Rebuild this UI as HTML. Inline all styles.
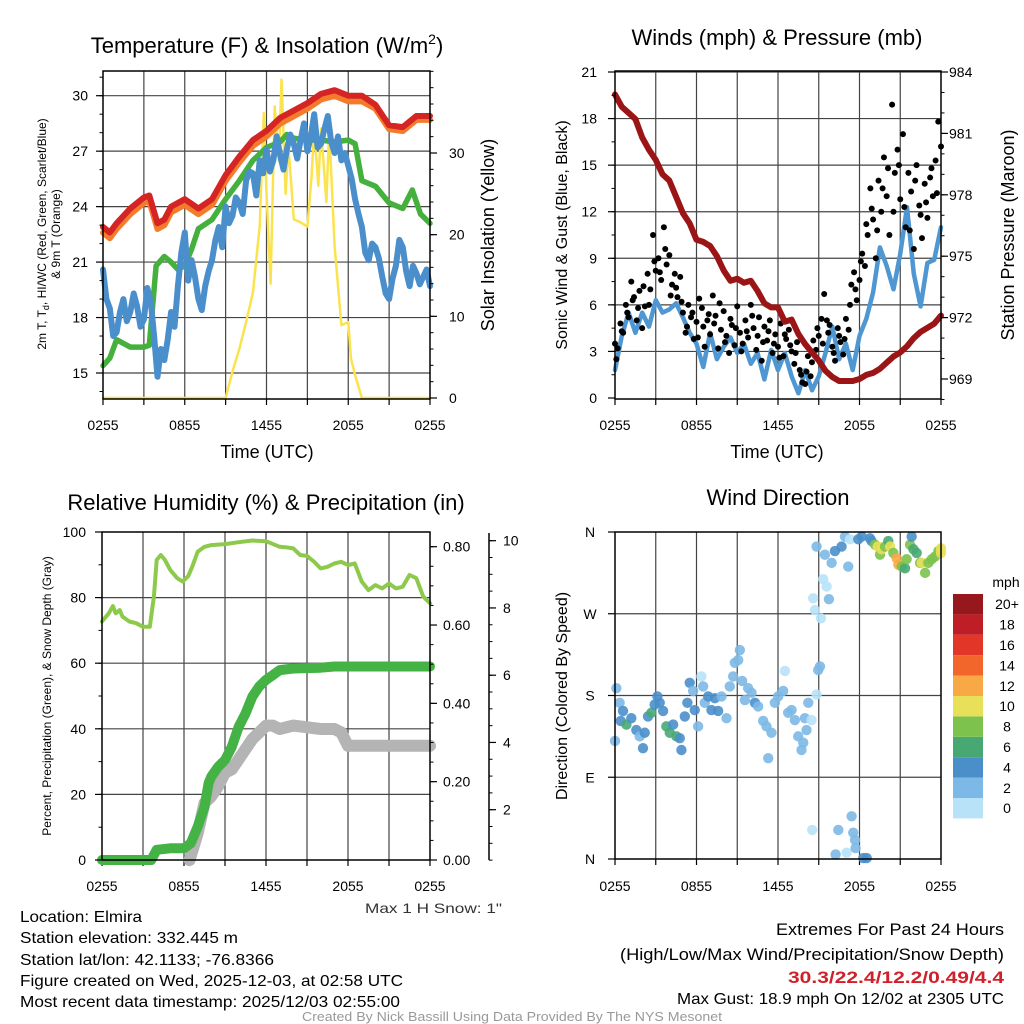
<!DOCTYPE html>
<html><head><meta charset="utf-8"><style>
html,body{margin:0;padding:0;background:#fff;}
svg{display:block;font-family:"Liberation Sans",sans-serif;}
</style></head><body>
<svg id="chart" width="1024" height="1024" viewBox="0 0 1024 1024">
<g id="texts">
<text x="267" y="53" font-size="22" text-anchor="middle">Temperature (F) &amp; Insolation (W/m<tspan font-size="14" dy="-9">2</tspan><tspan dy="9">)</tspan></text>
<text x="777" y="45" font-size="22" text-anchor="middle">Winds (mph) &amp; Pressure (mb)</text>
<text x="266" y="510" font-size="22" text-anchor="middle">Relative Humidity (%) &amp; Precipitation (in)</text>
<text x="778" y="505" font-size="22" text-anchor="middle">Wind Direction</text>
<text x="267" y="458" font-size="18" text-anchor="middle">Time (UTC)</text>
<text x="777" y="458" font-size="18" text-anchor="middle">Time (UTC)</text>
<text transform="translate(46,234) rotate(-90)" font-size="12" text-anchor="middle">2m T, T<tspan font-size="9" dy="3">d</tspan><tspan dy="-3">, HI/WC (Red, Green, Scarlet/Blue)</tspan></text>
<text transform="translate(60,234) rotate(-90)" font-size="12" text-anchor="middle">&amp; 9m T (Orange)</text>
<text transform="translate(494,235) rotate(-90)" font-size="18" text-anchor="middle">Solar Insolation (Yellow)</text>
<text transform="translate(567,235) rotate(-90)" font-size="16" text-anchor="middle">Sonic Wind &amp; Gust (Blue, Black)</text>
<text transform="translate(1014,235) rotate(-90)" font-size="18" text-anchor="middle">Station Pressure (Maroon)</text>
<text transform="translate(51,696) rotate(-90)" font-size="12" text-anchor="middle">Percent, Precipitation (Green), &amp; Snow Depth (Gray)</text>
<text transform="translate(567,696) rotate(-90)" font-size="16" text-anchor="middle">Direction (Colored By Speed)</text>
<text x="502" y="913" font-size="14" fill="#333" text-anchor="end" textLength="137" lengthAdjust="spacingAndGlyphs">Max 1 H Snow: 1"</text>
<text x="20" y="922" font-size="16" textLength="122" lengthAdjust="spacingAndGlyphs">Location: Elmira</text>
<text x="20" y="943" font-size="16" textLength="218" lengthAdjust="spacingAndGlyphs">Station elevation: 332.445 m</text>
<text x="20" y="965" font-size="16" textLength="254" lengthAdjust="spacingAndGlyphs">Station lat/lon: 42.1133; -76.8366</text>
<text x="20" y="986" font-size="16" textLength="383" lengthAdjust="spacingAndGlyphs">Figure created on Wed, 2025-12-03, at 02:58 UTC</text>
<text x="20" y="1007" font-size="16" textLength="380" lengthAdjust="spacingAndGlyphs">Most recent data timestamp: 2025/12/03 02:55:00</text>
<text x="1004" y="935" font-size="17" text-anchor="end" textLength="228" lengthAdjust="spacingAndGlyphs">Extremes For Past 24 Hours</text>
<text x="1004" y="960" font-size="17" text-anchor="end" textLength="384" lengthAdjust="spacingAndGlyphs">(High/Low/Max Wind/Precipitation/Snow Depth)</text>
<text x="1004" y="983" font-size="17" font-weight="bold" fill="#d0202a" text-anchor="end" textLength="216" lengthAdjust="spacingAndGlyphs">30.3/22.4/12.2/0.49/4.4</text>
<text x="1004" y="1004" font-size="16" text-anchor="end" textLength="327" lengthAdjust="spacingAndGlyphs">Max Gust: 18.9 mph On 12/02 at 2305 UTC</text>
<text x="512" y="1021" font-size="13" fill="#999" text-anchor="middle" textLength="420" lengthAdjust="spacingAndGlyphs">Created By Nick Bassill Using Data Provided By The NYS Mesonet</text>
<text x="1006" y="587" font-size="14" text-anchor="middle">mph</text>
</g>
</svg>
<script>
// ---------- DATA ----------
const xTickLabels = ["0255","0855","1455","2055","0255"];
const halfHours = [0,0.5,1,1.5,2,2.5,3,3.5,4,4.5,5,5.5,6,6.5,7,7.5,8,8.5,9,9.5,10,10.5,11,11.5,12,12.5,13,13.5,14,14.5,15,15.5,16,16.5,17,17.5,18,18.5,19,19.5,20,20.5,21,21.5,22,22.5,23,23.5,24];
const quarterHours = Array.from({length:97},(_,i)=>i*0.25);
// Panel 1
const tempHours = [0,0.5,1,2,3,3.4,4,4.5,5,6,7,8,9,10,11,12,13,14,15,16,17,18,19,20,21,22,23,24];
const temp2m = [22.9,22.6,23.1,23.9,24.5,24.6,23.1,23.3,24.0,24.4,23.9,24.4,25.7,26.7,27.6,28.1,28.8,29.2,29.6,30.1,30.3,30.0,30.0,29.5,28.4,28.3,28.9,28.9];
const temp9m = [22.7,22.4,22.9,23.7,24.3,24.4,22.9,23.1,23.8,24.2,23.7,24.2,25.5,26.5,27.4,27.9,28.6,29.0,29.4,29.9,30.1,29.8,29.8,29.4,28.3,28.2,28.8,28.8];
const dewHours = [0,0.5,1,2,3,3.4,3.9,4.5,5,5.5,6,6.5,7,8,9,10,11,12,13,13.5,14,15,16,17,18,18.5,19,20,21,22,22.7,23.3,24];
const dewpoint = [15.4,15.8,16.8,16.4,16.4,16.5,20.8,21.3,21.0,20.6,20.8,21.7,22.8,23.3,24.4,25.4,26.5,27.2,27.5,27.9,27.7,27.6,27.6,27.5,27.6,27.4,25.4,25.1,24.2,23.9,24.9,23.6,23.1];
const hiwc = [20.6,19.0,18.5,17.0,17.2,18.3,19.0,17.8,18.3,19.3,18.6,17.5,17.9,19.6,18.9,17.0,14.8,16.3,15.7,16.8,18.3,17.5,19.7,21.5,22.6,20.0,21.1,20.2,19.0,18.4,19.7,20.5,21.1,22.2,22.9,21.8,24.0,23.1,23.5,24.5,24.2,23.6,25.4,25.9,25.8,24.6,26.5,25.8,27.1,25.9,26.5,27.8,26.8,26.0,27.1,27.9,27.4,26.6,27.6,28.5,27.0,27.8,29.0,27.2,27.4,28.2,28.9,27.5,26.9,27.8,26.5,26.9,26.2,25.5,24.4,23.6,22.9,21.5,21.1,22.0,21.8,21.2,20.2,19.3,19.0,20.1,20.8,22.2,21.8,20.5,19.7,20.8,20.4,19.8,20.2,20.6,19.7];
const solarHours = [0,9,9.5,10,10.5,11,11.5,11.8,12,12.3,12.6,12.9,13.1,13.4,13.6,14,14.5,15,15.3,15.5,15.8,16,16.4,16.6,17,17.5,18,18.2,18.5,19,24];
const solar = [0,0,3.2,6.0,9.3,12.9,21,34.9,25,14,35.7,29,39,25,31,21.9,21.5,21,27,33,26,33,24,33,18.6,8.9,9.3,4.8,2.8,0,0];
const tempTicks = [15,18,21,24,27,30];
const solarTicks = [0,10,20,30];
// Panel 2
const pressure = [982.9,982.3,982.0,981.7,980.8,980.2,979.7,979.0,978.7,977.9,977.1,976.6,975.8,975.7,975.5,975.0,974.3,973.8,973.9,973.7,973.8,973.3,972.7,972.5,972.5,971.8,971.9,971.2,970.7,970.3,969.9,969.4,969.1,968.9,968.9,968.9,969.0,969.2,969.3,969.5,969.8,970.1,970.3,970.6,971.0,971.3,971.5,971.7,972.1];
const wind = [1.8,4.0,5.5,4.2,5.5,4.6,6.3,5.5,5.7,6.1,5.2,4.2,3.5,2.0,4.2,2.5,3.3,3.9,2.9,3.5,2.2,2.9,1.2,3.1,1.8,2.9,1.4,0.3,1.8,0.5,1.4,2.9,4.6,2.5,3.5,1.8,4.0,5.1,6.8,9.7,8.5,7.0,9.3,12.3,8.0,5.9,8.7,8.9,11.0];
const gustHoursA = Array.from({length:121},(_,i)=>i*0.2);
const gustA = [3.5,3.2,4.8,4.2,6.0,5.2,7.5,6.5,5.0,6.9,4.5,5.9,8.0,7.0,10.5,8.2,9.0,7.6,11.0,8.6,9.2,7.3,8.0,6.5,7.8,5.5,4.2,6.0,5.2,3.8,4.9,6.4,5.8,3.3,5.0,4.1,6.6,5.3,3.2,4.4,5.6,4.0,2.9,4.7,3.4,5.9,4.2,3.5,5.0,3.9,6.0,4.5,3.1,5.2,2.4,4.6,3.7,5.0,2.9,4.1,3.3,4.8,2.7,3.8,4.4,3.0,2.2,3.6,1.8,1.0,0.9,2.7,1.4,3.7,3.1,4.0,5.1,6.7,5.0,4.7,3.3,2.4,4.5,3.6,2.8,5.1,4.4,7.3,8.1,6.3,7.6,9.3,8.5,10.5,13.5,11.5,9.0,14.0,12.0,15.5,13.0,10.5,18.9,14.5,16.0,12.8,17.0,11.0,14.5,13.3,9.6,15.0,12.4,10.3,13.8,11.6,14.2,13.0,15.3,17.8,16.2];
const gustHoursB = Array.from({length:60},(_,i)=>0.1+i*0.4);
const gustB = [2.5,4.3,5.5,6.3,5.8,7.2,6.0,8.8,8.1,9.6,6.6,7.1,6.2,4.6,5.5,3.9,4.6,5.4,4.8,6.1,3.6,5.1,4.5,3.0,4.3,5.3,4.0,3.6,4.3,3.5,2.6,4.1,3.4,2.9,1.5,1.7,2.3,4.5,3.5,4.2,2.9,4.0,3.8,6.0,7.0,8.8,11.2,12.2,10.8,13.5,14.8,12.0,15.0,12.3,10.8,14.0,11.8,12.6,14.8,13.2];
const windTicks = [0,3,6,9,12,15,18,21];
const pressTicks = [969,972,975,978,981,984];
// Panel 3
const rhHours = [0,0.5,0.8,1,1.3,1.5,2,2.5,3,3.5,3.8,4,4.3,4.6,5,5.5,5.9,6.3,6.6,7,7.5,8,9,10,11,12,13,13.5,14,14.5,15,15.5,16,16.5,17,17.5,18,18.5,19,19.5,20,20.5,21,21.5,22,22.5,23,23.5,24];
const rh = [72.7,75.2,77.4,75.2,76.2,74.2,72.7,72.2,71.1,71.1,80.3,91.5,93.0,91.5,88.4,85.9,84.9,86.5,89.4,94.0,95.5,96.0,96.3,96.9,97.4,97.2,95.5,95.3,95.0,93.0,92.7,91.0,88.9,89.4,90.4,90.9,89.9,90.4,84.9,82.3,83.8,82.8,84.3,82.8,83.3,86.9,85.9,80.3,78.3];
const precipHours = [0,3.6,4,5,6,6.5,7,7.5,7.8,8,8.5,9,9.5,10,10.5,11,11.5,12,12.5,13,14,16,17,24];
const precip = [0,0,0.026,0.03,0.03,0.043,0.085,0.136,0.196,0.213,0.238,0.255,0.289,0.34,0.374,0.417,0.443,0.46,0.472,0.485,0.489,0.491,0.494,0.494];
const snowHours = [6.4,7,7.5,8,8.5,9,9.5,10,10.5,11,11.5,12,12.5,13,14,16,17,17.5,18,19,24];
const snow = [0.5,1.3,2.2,2.4,2.7,3.1,3.2,3.5,3.8,4.1,4.3,4.5,4.5,4.4,4.5,4.4,4.4,4.3,3.9,3.9,3.9];
const rhTicks = [0,20,40,60,80,100];
const precipTicks = ["0.00","0.20","0.40","0.60","0.80"];
const snowTicks = [2,4,6,8,10];
// Panel 4
const dirHours = [0,0.1,0.34,0.59,0.42,0.84,1.2,1.57,1.82,2.06,2.19,2.43,2.68,2.92,3.12,3.29,3.54,3.78,4.03,4.28,4.52,4.77,4.89,5.14,5.33,5.5,5.75,5.87,6.12,6.36,6.49,6.61,6.86,7.1,7.35,7.59,7.84,8.21,8.45,8.7,8.82,9.07,9.19,9.36,9.56,9.8,10.05,10.3,10.54,10.91,11.15,11.28,11.52,11.77,12.01,12.38,12.51,12.75,13.0,13.24,13.49,13.73,13.86,13.98,14.23,14.47,14.1,14.84,14.96,15.09,14.52,14.59,14.72,14.84,15.16,15.33,15.45,15.58,15.75,15.95,16.19,16.44,16.24,16.68,16.93,17.05,17.17,17.3,17.42,17.54,17.67,17.71,17.91,18.16,18.28,18.53,18.77,18.89,19.14,19.34,19.51,19.63,19.88,20.12,20.25,20.49,20.74,20.86,21.11,21.35,21.47,21.72,21.84,21.97,22.21,22.46,22.58,22.83,23.07,23.32,23.56,23.81,24.0,24.0];
const dirDeg = [130,188,172,163,152,148,155,142,135,122,139,157,161,170,179,172,163,146,139,148,135,133,120,157,172,194,185,164,146,201,190,172,179,164,177,163,179,155,190,201,216,219,230,196,175,188,183,172,168,152,146,111,139,172,179,185,207,161,164,153,135,120,128,155,172,153,142,181,208,212,32,287,274,344,265,308,335,300,286,326,339,32,5,344,355,7,322,352,47,29,21,12,352,355,1,1,353,350,346,344,335,341,344,350,344,337,331,324,322,320,330,346,355,341,337,326,326,315,326,330,333,339,342,337];
const dirSpeed = [3,3,3,5,5,7,5,5,3,5,5,5,7,5,5,5,5,7,7,5,7,5,5,5,5,5,3,5,3,1,3,3,5,5,5,5,3,3,3,3,3,3,3,3,3,3,3,5,3,3,3,3,3,3,3,3,1,3,3,3,3,3,3,3,3,1,3,1,3,3,1,1,1,3,1,1,3,1,3,3,5,3,3,5,3,1,3,1,3,3,3,3,5,5,5,5,5,5,9,11,9,11,9,7,11,9,13,12,9,7,9,9,5,7,7,9,11,9,9,9,9,9,11,11];
const dirTickLabels = ["N","E","S","W","N"];
const legendLabels = ["0","2","4","6","8","10","12","14","16","18","20+"];
const legendColors = ["#b8e2f8","#7db9e6","#4a8fca","#48a873","#7cc24c","#e8e058","#f9a846","#f2662c","#e23628","#c01e26","#97181c"];

// ---------- HELPERS ----------
const NS = "http://www.w3.org/2000/svg";
const svg = document.getElementById('chart');
function mk(tag, attrs, parent){ const e=document.createElementNS(NS,tag); for(const k in attrs) e.setAttribute(k,attrs[k]); (parent||svg).appendChild(e); return e; }
function scale(d0,d1,r0,r1){ return v=> r0+(v-d0)/(d1-d0)*(r1-r0); }
function pathD(xs,ys,fx,fy){ return xs.map((t,i)=>(i?'L':'M')+fx(t).toFixed(1)+','+fy(ys[i]).toFixed(1)).join(''); }

function frame(g, x0,x1,y0,y1, labelY){
  const fx = scale(0,24,x0,x1);
  for(let h=3;h<24;h+=3){
    const l = mk('line',{x1:fx(h),x2:fx(h),y1:y0,y2:y1,stroke:'#444','stroke-width':1.2},g);
    
    
  }
  for(let h=0;h<=24;h+=3){
    const tk = mk('line',{x1:fx(h),x2:fx(h),y1:y1,y2:y1+6,stroke:'#000','stroke-width':1.2},g);
    
    
  }
  xTickLabels.forEach((s,i)=>{
    const t = mk('text',{x:fx(i*6),y:labelY,'font-size':14,'text-anchor':'middle'},g);
    t.textContent=s;
    
    
  });
  return fx;
}
function border(g,x0,x1,y0,y1){
  const r = mk('rect',{x:x0,y:y0,width:x1-x0,height:y1-y0,fill:'none',stroke:'#000','stroke-width':1.5},g);
  
  
}
function hgrid(g,vals,fy,x0,x1){
  vals.forEach(v=>{ const l=mk('line',{x1:x0,x2:x1,y1:fy(v),y2:fy(v),stroke:'#444','stroke-width':1.2},g);
    
     });
}
function yAxis(g,x,fy,major,labels,minorStep,lo,hi,side,labX,anchor){
  const dir = side==='left'?-1:1;
  for(let v=lo; v<=hi+1e-9; v+=minorStep){
    const m = mk('line',{x1:x,x2:x+dir*3.5,y1:fy(v),y2:fy(v),stroke:'#000','stroke-width':1},g);
    
    
  }
  major.forEach((v,i)=>{
    const m = mk('line',{x1:x,x2:x+dir*7,y1:fy(v),y2:fy(v),stroke:'#000','stroke-width':1.2},g);
    
    
    const t = mk('text',{x:labX,y:fy(v)+5,'font-size':14,'text-anchor':anchor},g);
    t.textContent = labels[i];
    
    
  });
}
function line(g,xs,ys,fx,fy,color,w,name,op){
  const p = mk('path',{d:pathD(xs,ys,fx,fy),fill:'none',stroke:color,'stroke-width':w,'stroke-linejoin':'round','stroke-linecap':'round','stroke-opacity':op||1},g);
  
  
  return p;
}

// ---------- PANEL 1 ----------
(function(){
  const g = mk('g',{});
  
  
  const x0=103,x1=430,y0=71,y1=399;
  const fy = scale(15,30,373,95.7);
  const fs = scale(0,30,398,153);
  const fx = frame(g,x0,x1,y0,y1,430);
  hgrid(g,tempTicks,fy,x0,x1);
  line(g,solarHours,solar,fx,fs,'#fbe34e',2.5,'insolation-line');
  line(g,tempHours,temp9m,fx,v=>fy(v)+2,'#f47b2a',6,'temp-9m-line');
  line(g,dewHours,dewpoint,fx,fy,'#45b03d',5.5,'dewpoint-line');
  line(g,quarterHours,hiwc,fx,fy,'#4a8ecb',6,'heat-index-line');
  line(g,tempHours,temp2m,fx,fy,'#d42424',6,'temp-2m-line');
  border(g,x0,x1,y0,y1);
  yAxis(g,x0,fy,tempTicks,tempTicks,1,14,31,'left',88,'end');
  yAxis(g,x1,fs,solarTicks,solarTicks,2,0,40,'right',449,'start');
})();

// ---------- PANEL 2 ----------
(function(){
  const g = mk('g',{});
  
  
  const x0=615,x1=941,y0=71,y1=399;
  const fy = scale(0,21,398,72);
  const fp = scale(969,984,379,72);
  const fx = frame(g,x0,x1,y0,y1,430);
  hgrid(g,windTicks.slice(1),fy,x0,x1);
  line(g,halfHours,wind,fx,fy,'#4f97d2',4.5,'sustained-wind-line');
  gustA.forEach((v,i)=>{ const c=mk('circle',{cx:fx(gustHoursA[i]),cy:fy(v),r:3,fill:'#000'},g);
    
     });
  gustB.forEach((v,i)=>{ const c=mk('circle',{cx:fx(gustHoursB[i]),cy:fy(v),r:3,fill:'#000'},g);
    
     });
  line(g,halfHours,pressure,fx,fp,'#9b1416',6,'pressure-line');
  border(g,x0,x1,y0,y1);
  yAxis(g,x0,fy,windTicks,windTicks,1.5,0,21,'left',597,'end');
  yAxis(g,x1,fp,pressTicks,pressTicks,1,968,984,'right',949,'start');
})();

// ---------- PANEL 3 ----------
(function(){
  const g = mk('g',{});
  
  
  const x0=102,x1=430,y0=532,y1=860;
  const fy = scale(0,100,860,532);
  const fpr = scale(0,0.8,860,546.7);
  const fsn = scale(2,10,809.7,540.7);
  const fx = frame(g,x0,x1,y0,y1,891);
  hgrid(g,[20,40,60,80],fy,x0,x1);
  line(g,snowHours,snow,fx,fsn,'#b4b4b4',12,'snow-depth-line');
  line(g,precipHours,precip,fx,fpr,'#45b246',10,'precipitation-line');
  line(g,rhHours,rh,fx,fy,'#8dca4c',4,'humidity-line');
  border(g,x0,x1,y0,y1);
  yAxis(g,x0,fy,rhTicks,rhTicks,10,0,100,'left',86,'end');
  yAxis(g,x1,fpr,precipTicks.map(Number),precipTicks,0.05,0,0.8,'right',443,'start');
  const ax = mk('line',{x1:489,x2:489,y1:533,y2:860,stroke:'#000','stroke-width':1.5},g);
  
  
  yAxis(g,489,fsn,snowTicks,snowTicks,0.5,0.5,10,'right',503,'start');
})();

// ---------- PANEL 4 ----------
(function(){
  const g = mk('g',{});
  
  
  const x0=615,x1=941,y0=532,y1=859;
  const fy = scale(0,360,859,532);
  const fx = frame(g,x0,x1,y0,y1,891);
  hgrid(g,[90,180,270],fy,x0,x1);
  dirDeg.forEach((d,i)=>{
    const bin = Math.min(10,Math.floor(dirSpeed[i]/2));
    const c = mk('circle',{cx:fx(dirHours[i]),cy:fy(d),r:5.2,fill:legendColors[bin],'fill-opacity':0.9},g);
    
    
  });
  border(g,x0,x1,y0,y1);
  dirTickLabels.forEach((s,i)=>{
    const v=i*90;
    const tk = mk('line',{x1:x0,x2:x0-7,y1:fy(v),y2:fy(v),stroke:'#000','stroke-width':1.2},g);
    
    
    const t = mk('text',{x:590,y:fy(v)+5,'font-size':14,'text-anchor':'middle'},g);
    t.textContent=s;
    
    
  });
  const lg = mk('g',{},g);
  
  
  const bh = 20.4, top = 594;
  legendLabels.forEach((s,i)=>{
    const y = top + (10-i)*bh;
    const r = mk('rect',{x:953,y:y,width:30,height:bh,fill:legendColors[i]},lg);
    
    
    const t = mk('text',{x:1007,y:y+bh/2+5,'font-size':14,'text-anchor':'middle'},lg);
    t.textContent=s;
    
    
  });
})();
</script>
</body></html>
